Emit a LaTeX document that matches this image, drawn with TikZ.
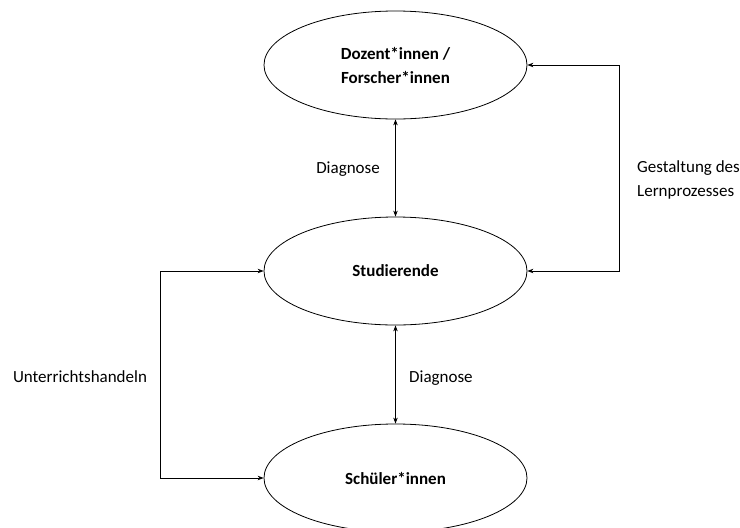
\documentclass[tikz,border=0pt]{standalone}
\usepackage{fontspec}
\setmainfont{Carlito}
\usetikzlibrary{shapes.geometric,arrows.meta}

\tikzset{
  role/.style={draw, ellipse, line width=0.8pt, minimum width=263pt,
    minimum height=108pt, inner sep=0pt, align=center,
    font=\fontsize{17}{24}\selectfont\bfseries},
  link/.style={line width=0.8pt, {Stealth[length=6pt,width=4.5pt]}-{Stealth[length=6pt,width=4.5pt]}},
  tag/.style={font=\fontsize{17}{24}\selectfont, inner sep=0pt}
}

\begin{document}
\begin{tikzpicture}[x=1pt, y=-1pt]
  \clip (0,0) rectangle (740,528);
  \fill[white] (0,0) rectangle (740,528);

  % the three groups
  \node[role] (dozent)  at (395.5,65)  {Dozent*innen /\\Forscher*innen};
  \node[role] (stud)    at (395.5,271) {Studierende};
  \node[role] (schuel)  at (395.5,478) {Schüler*innen};

  % diagnosis links
  \draw[link] (dozent.south) -- (stud.north);
  \draw[link] (stud.south) -- (schuel.north);

  % shaping of the learning process
  \draw[link] (dozent.east) -- ++(92,0) |- (stud.east);

  % teaching
  \draw[link] (stud.west) -- ++(-103,0) |- (schuel.west);

  % labels
  \node[tag, anchor=east] (diag1) at (380,169) {Diagnose};
  \node[tag, anchor=west] (diag2) at (409,378) {Diagnose};
  \node[tag, anchor=west, align=left] (gest) at (637,180) {Gestaltung des\\Lernprozesses};
  \node[tag] (unterr) at (80,377) {Unterrichtshandeln};
\end{tikzpicture}
\end{document}
